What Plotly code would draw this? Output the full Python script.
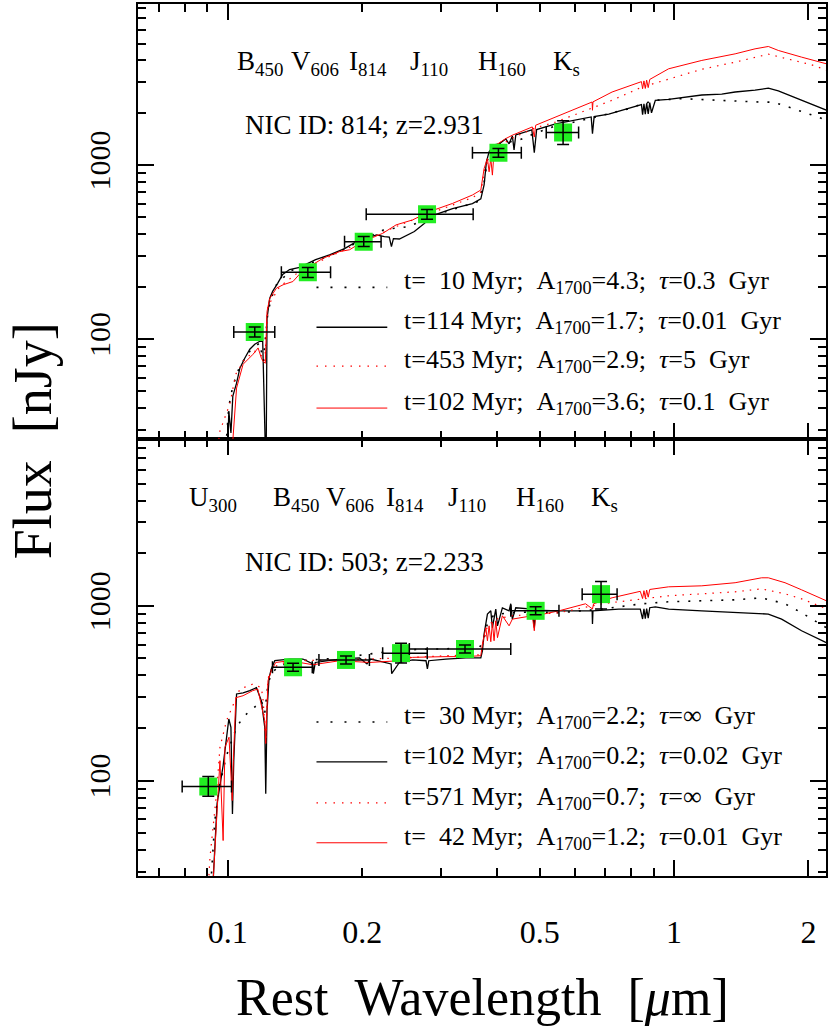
import math
import plotly.graph_objects as go

# ---------------- photometry (rest wavelength in micron, flux in nJy) ----------------
TOP_PHOT_WL = [0.1149, 0.1511, 0.2016, 0.2795, 0.4040, 0.5640]
TOP_PHOT_FLUX = [109.6, 242, 363, 521, 1176, 1538]
TOP_PHOT_WL_LO = [0.1031, 0.1318, 0.1826, 0.2042, 0.3533, 0.5170]
TOP_PHOT_WL_HI = [0.1274, 0.1699, 0.2205, 0.3546, 0.4546, 0.6110]
TOP_PHOT_FLUX_LO = [102.6, 226, 340, 488, 1108, 1312]
TOP_PHOT_FLUX_HI = [117.1, 258, 388, 556, 1248, 1802]

BOT_PHOT_WL = [0.0904, 0.1400, 0.1840, 0.2444, 0.3400, 0.4895, 0.6860]
BOT_PHOT_FLUX = [92.5, 445, 490, 536, 566, 936, 1166]
BOT_PHOT_WL_LO = [0.0790, 0.1259, 0.1600, 0.2223, 0.2551, 0.4305, 0.6223]
BOT_PHOT_WL_HI = [0.1019, 0.1546, 0.2076, 0.2798, 0.4305, 0.5521, 0.7452]
BOT_PHOT_FLUX_LO = [81.5, 422, 465, 470, 537, 888, 958]
BOT_PHOT_FLUX_HI = [105.5, 469, 516, 610, 597, 987, 1377]

# ---------------- model spectra: (rest wavelength [um], flux [nJy]) ----------------
TOP_BLACK_DOT = [(0.0990, 24), (0.1005, 41), (0.1026, 53.6), (0.1064, 70), (0.1120, 85), (0.1179, 95),
                 (0.1200, 74.5), (0.1230, 144), (0.1274, 200), (0.1375, 245), (0.1525, 271), (0.1780, 318),
                 (0.2006, 373), (0.2243, 426), (0.2550, 443), (0.2876, 512), (0.3300, 570), (0.3620, 615),
                 (0.3740, 750), (0.3817, 1070), (0.3950, 1307), (0.4268, 1360), (0.4493, 1391), (0.4896, 1530),
                 (0.5428, 1680), (0.6117, 1790), (0.7139, 1980), (0.7912, 2111), (0.8500, 2250), (0.9078, 2360),
                 (1.0400, 2410), (1.1500, 2390), (1.3702, 2337), (1.5500, 2307), (1.6700, 2300), (1.8030, 2160),
                 (2.0325, 1943), (2.1947, 1818)]

TOP_BLACK_SOLID = [(0.1000, 24), (0.1005, 38.5), (0.1016, 28.8), (0.1026, 46.9), (0.1046, 55.7), (0.1064, 67.9),
                   (0.1091, 77.5), (0.1120, 87.3), (0.1149, 93.2), (0.1179, 97.0), (0.1197, 97.0), (0.1207, 43.9),
                   (0.1213, 24), (0.1219, 24), (0.1224, 131), (0.1241, 171), (0.1260, 188), (0.1293, 209),
                   (0.1327, 235), (0.1375, 251), (0.1448, 258), (0.1573, 286), (0.1690, 305), (0.1826, 331),
                   (0.1942, 363), (0.2006, 373), (0.2153, 397), (0.2243, 388), (0.2300, 385), (0.2326, 340),
                   (0.2350, 378), (0.2423, 376),
                   (0.2618, 415), (0.2755, 461), (0.2876, 512), (0.3188, 562), (0.3533, 600), (0.3689, 640),
                   (0.3752, 770), (0.3797, 1044), (0.3850, 1192), (0.3950, 1307), (0.4054, 1325), (0.4196, 1415),
                   (0.4268, 1325), (0.4341, 1472), (0.4379, 1224), (0.4418, 1490), (0.4800, 1594), (0.4861, 1180),
                   (0.4920, 1600), (0.5428, 1725), (0.6117, 1843), (0.6520, 1892), (0.6563, 1518), (0.6620, 1900),
                   (0.7139, 1966), (0.7912, 2111), (0.8450, 2230), (0.8500, 1950), (0.8560, 2250), (0.8620, 1960),
                   (0.8680, 2270), (0.8750, 1970), (0.8820, 2290), (0.8900, 2000), (0.9078, 2360), (0.9721, 2390),
                   (1.0593, 2464), (1.1538, 2530), (1.2789, 2560), (1.3702, 2633), (1.5186, 2700), (1.6264, 2770),
                   (1.7123, 2670), (1.9307, 2359), (2.1947, 2070)]

TOP_RED_DOT = [(0.0950, 24), (0.0960, 29.6), (0.1010, 42.2), (0.1042, 62.8), (0.1091, 76.5), (0.1149, 85),
               (0.1190, 80), (0.1210, 74.5), (0.1230, 155), (0.1307, 200), (0.1448, 245), (0.1690, 298),
               (0.2006, 363), (0.2380, 443), (0.2828, 526), (0.3533, 650), (0.3690, 700), (0.3770, 977),
               (0.3980, 1255), (0.4340, 1431), (0.4896, 1640), (0.5428, 1770), (0.6117, 1990), (0.7260, 2359),
               (0.8470, 2810), (0.9720, 3130), (1.1538, 3560), (1.3702, 3911), (1.6264, 4345), (1.8030, 4070),
               (2.0300, 3780), (2.1947, 3520)]

TOP_RED_SOLID = [(0.1016, 24), (0.1026, 26), (0.1046, 52.2), (0.1082, 71.6), (0.1139, 81.7), (0.1169, 88.8),
                 (0.1189, 77.5), (0.1199, 74.5), (0.1213, 72.5), (0.1224, 144), (0.1241, 171), (0.1285, 196),
                 (0.1330, 205), (0.1399, 214), (0.1448, 236), (0.1525, 261), (0.1633, 291), (0.1780, 318),
                 (0.1874, 326), (0.2006, 363), (0.2223, 405), (0.2382, 453), (0.2595, 484), (0.2828, 540),
                 (0.3188, 602), (0.3533, 673), (0.3689, 719), (0.3752, 956), (0.3817, 1091), (0.3850, 915),
                 (0.3884, 1091), (0.3916, 876), (0.3950, 1192), (0.3985, 1302), (0.4196, 1421), (0.4341, 1486),
                 (0.4811, 1658), (0.4861, 1450), (0.4896, 1696), (0.5428, 1892), (0.6117, 2160), (0.6552, 2307),
                 (0.6563, 2067), (0.6580, 2310), (0.7262, 2633), (0.8450, 3020), (0.8500, 2750), (0.8560, 3050),
                 (0.8620, 2760), (0.8680, 3080), (0.8750, 2790), (0.8820, 3110), (0.9721, 3580), (1.1538, 4000),
                 (1.3702, 4364), (1.5186, 4664), (1.6264, 4812), (1.7123, 4565), (1.9307, 4178), (2.1947, 3825)]

BOT_BLACK_DOT = [(0.0919, 29.4), (0.0935, 59.1), (0.0960, 96.1), (0.0993, 139), (0.1046, 202), (0.1082, 230),
                 (0.1120, 251), (0.1159, 268), (0.1189, 286), (0.1210, 245), (0.1230, 357), (0.1254, 414),
                 (0.1307, 454), (0.1448, 485), (0.1780, 503), (0.2186, 539), (0.2590, 561), (0.3250, 568),
                 (0.3660, 575), (0.3740, 631), (0.3820, 800), (0.3950, 888), (0.4268, 912), (0.4896, 924),
                 (0.5521, 912), (0.6898, 958), (0.8472, 1027), (0.9721, 1054), (1.1538, 1068), (1.3702, 1082),
                 (1.5713, 1111), (1.7725, 1027), (1.9307, 912), (2.1947, 749)]

BOT_BLACK_SOLID = [(0.0927, 26.8), (0.0946, 73.8), (0.0976, 122), (0.0985, 148), (0.1005, 225), (0.1016, 202),
                   (0.1024, 64.5), (0.1031, 130), (0.1046, 313), (0.1082, 318), (0.1120, 327), (0.1159, 340),
                   (0.1189, 286), (0.1210, 201), (0.1216, 84), (0.1224, 251), (0.1237, 388), (0.1252, 436),
                   (0.1274, 485), (0.1375, 496), (0.1473, 496), (0.1551, 465), (0.1555, 409), (0.1570, 474),
                   (0.1780, 496), (0.1972, 503), (0.2050, 465), (0.2090, 496), (0.2322, 465), (0.2329, 409),
                   (0.2423, 474), (0.2595, 490), (0.2780, 485), (0.2800, 436), (0.2820, 485), (0.3082, 496),
                   (0.3415, 503), (0.3689, 503), (0.3720, 553), (0.3752, 689), (0.3817, 897), (0.3884, 936),
                   (0.3916, 749), (0.3985, 958), (0.4020, 768), (0.4123, 974), (0.4268, 936), (0.4305, 1027),
                   (0.4341, 839), (0.4418, 974), (0.4811, 958), (0.4861, 749), (0.4896, 945), (0.5521, 936),
                   (0.6552, 936), (0.6563, 786), (0.6580, 936), (0.7516, 958), (0.8400, 958), (0.8500, 840),
                   (0.8560, 960), (0.8620, 845), (0.8680, 965), (0.8750, 850), (0.8820, 975), (0.9078, 987),
                   (0.9721, 958), (1.1538, 936), (1.3702, 912), (1.6264, 897), (1.7417, 839), (1.9307, 720),
                   (2.1947, 615)]

BOT_RED_DOT = [(0.0905, 26), (0.0912, 36.5), (0.0943, 83.9), (0.0960, 155), (0.0993, 220), (0.1029, 274),
               (0.1064, 334), (0.1139, 357), (0.1189, 340), (0.1200, 286), (0.1216, 169), (0.1230, 383),
               (0.1254, 442), (0.1375, 485), (0.1780, 490), (0.2423, 503), (0.3082, 518), (0.3689, 524),
               (0.3740, 631), (0.3820, 768), (0.3985, 839), (0.4341, 877), (0.4896, 897), (0.5521, 912),
               (0.6898, 1027), (0.8472, 1096), (0.9721, 1141), (1.1538, 1171), (1.3702, 1202), (1.5713, 1250),
               (1.7725, 1171), (1.9307, 1096), (2.1947, 962)]

BOT_RED_SOLID = [(0.0927, 26.8), (0.0951, 76.9), (0.0960, 130), (0.0976, 45.4), (0.0985, 155), (0.1006, 177),
                 (0.1023, 76.9), (0.1029, 130), (0.1042, 298), (0.1082, 306), (0.1137, 327), (0.1167, 334),
                 (0.1189, 274), (0.1210, 220), (0.1216, 163), (0.1230, 373), (0.1252, 425), (0.1280, 474),
                 (0.1375, 485), (0.1551, 460), (0.1780, 485), (0.2076, 474), (0.2423, 485), (0.2595, 507),
                 (0.3082, 512), (0.3415, 512), (0.3689, 518), (0.3720, 606), (0.3785, 749), (0.3817, 631),
                 (0.3850, 768), (0.3884, 623), (0.3916, 800), (0.3950, 631), (0.3985, 821), (0.4020, 657),
                 (0.4123, 877), (0.4268, 768), (0.4341, 839), (0.4811, 877), (0.4861, 720), (0.4896, 877),
                 (0.5521, 936), (0.6333, 1027), (0.6563, 958), (0.6600, 1027), (0.7262, 1111), (0.8400, 1210),
                 (0.8500, 1100), (0.8560, 1220), (0.8620, 1110), (0.8680, 1230), (0.8750, 1120), (0.8820, 1240),
                 (0.9721, 1284), (1.1538, 1301), (1.3702, 1355), (1.5713, 1446), (1.6264, 1446), (1.7725, 1355),
                 (1.9307, 1234), (2.1947, 1068)]

# ---------------- text ----------------
TOP_FILTERS = ["B<sub>450</sub>", "V<sub>606</sub>", "I<sub>814</sub>", "J<sub>110</sub>", "H<sub>160</sub>", "K<sub>s</sub>"]
BOT_FILTERS = ["U<sub>300</sub>"] + TOP_FILTERS
TOP_ID = "NIC ID: 814; z=2.931"
BOT_ID = "NIC ID: 503; z=2.233"
NB = "\u00a0"
TOP_LEGEND = [
    f"t={NB}{NB}10{NB}Myr;{NB}{NB}A<sub>1700</sub>=4.3;{NB}{NB}<i>τ</i>=0.3{NB}{NB}Gyr",
    f"t=114{NB}Myr;{NB}{NB}A<sub>1700</sub>=1.7;{NB}{NB}<i>τ</i>=0.01{NB}{NB}Gyr",
    f"t=453{NB}Myr;{NB}{NB}A<sub>1700</sub>=2.9;{NB}{NB}<i>τ</i>=5{NB}{NB}Gyr",
    f"t=102{NB}Myr;{NB}{NB}A<sub>1700</sub>=3.6;{NB}{NB}<i>τ</i>=0.1{NB}{NB}Gyr",
]
BOT_LEGEND = [
    f"t={NB}{NB}30{NB}Myr;{NB}{NB}A<sub>1700</sub>=2.2;{NB}{NB}<i>τ</i>=∞{NB}{NB}Gyr",
    f"t=102{NB}Myr;{NB}{NB}A<sub>1700</sub>=0.2;{NB}{NB}<i>τ</i>=0.02{NB}{NB}Gyr",
    f"t=571{NB}Myr;{NB}{NB}A<sub>1700</sub>=0.7;{NB}{NB}<i>τ</i>=∞{NB}{NB}Gyr",
    f"t={NB}{NB}42{NB}Myr;{NB}{NB}A<sub>1700</sub>=1.2;{NB}{NB}<i>τ</i>=0.01{NB}{NB}Gyr",
]
X_TICKS = [0.1, 0.2, 0.5, 1, 2]
X_TICK_TEXT = ["0.1", "0.2", "0.5", "1", "2"]
X_MAJOR_LONG = [0.1, 1, 2]
X_MINOR = [0.07, 0.08, 0.09, 0.2, 0.3, 0.4, 0.5, 0.6, 0.7, 0.8, 0.9]
Y_TICKS = [100, 1000]
Y_TICK_TEXT = ["100", "1000"]
Y_MINOR = [20, 30, 40, 50, 60, 70, 80, 90, 200, 300, 400, 500, 600, 700, 800, 900,
           2000, 3000, 4000, 5000, 6000, 7000, 8000, 9000]

FONT = "Liberation Serif"
GREEN = "#22ee22"
RED = "#ff0000"

STYLES = {
    "black_dot": dict(color="black", width=1.6, dash="2px,9px"),
    "black_solid": dict(color="black", width=1.3),
    "red_dot": dict(color=RED, width=1.2, dash="1.5px,6px"),
    "red_solid": dict(color=RED, width=1.0),
}

fig = go.Figure()


def add_panel(xa, ya, curves, wl, fl, wl_lo, wl_hi, fl_lo, fl_hi):
    for data, style in curves:
        fig.add_trace(go.Scatter(x=[p[0] for p in data], y=[p[1] for p in data], mode="lines",
                                 line=STYLES[style], xaxis=xa, yaxis=ya, showlegend=False,
                                 hoverinfo="skip"))
    fig.add_trace(go.Scatter(x=wl, y=fl, mode="markers", xaxis=xa, yaxis=ya, showlegend=False,
                             marker=dict(symbol="square", size=18, color=GREEN, line=dict(width=0))))
    fig.add_trace(go.Scatter(
        x=wl, y=fl, mode="markers", xaxis=xa, yaxis=ya, showlegend=False,
        marker=dict(size=1, color="rgba(0,0,0,0)"),
        error_x=dict(type="data", symmetric=False,
                     array=[h - c for h, c in zip(wl_hi, wl)],
                     arrayminus=[c - l for l, c in zip(wl_lo, wl)],
                     color="black", thickness=1.5, width=6),
        error_y=dict(type="data", symmetric=False,
                     array=[h - c for h, c in zip(fl_hi, fl)],
                     arrayminus=[c - l for l, c in zip(fl_lo, fl)],
                     color="black", thickness=1.5, width=6),
    ))


add_panel("x2", "y2",
          [(TOP_BLACK_DOT, "black_dot"), (TOP_BLACK_SOLID, "black_solid"),
           (TOP_RED_DOT, "red_dot"), (TOP_RED_SOLID, "red_solid")],
          TOP_PHOT_WL, TOP_PHOT_FLUX, TOP_PHOT_WL_LO, TOP_PHOT_WL_HI, TOP_PHOT_FLUX_LO, TOP_PHOT_FLUX_HI)
add_panel("x", "y",
          [(BOT_BLACK_DOT, "black_dot"), (BOT_BLACK_SOLID, "black_solid"),
           (BOT_RED_DOT, "red_dot"), (BOT_RED_SOLID, "red_solid")],
          BOT_PHOT_WL, BOT_PHOT_FLUX, BOT_PHOT_WL_LO, BOT_PHOT_WL_HI, BOT_PHOT_FLUX_LO, BOT_PHOT_FLUX_HI)

# invisible trace to register the overlay axis carrying long major ticks
fig.add_trace(go.Scatter(x=[None], y=[None], xaxis="x3", yaxis="y", showlegend=False, hoverinfo="skip"))

XR = [math.log10(0.0629), math.log10(2.19)]
TOP_YR = [1.422, 3.9266]
BOT_YR = [1.4543, 3.9514]
SPLIT = 0.5006

tickfont = dict(family=FONT, size=32, color="black")
common_x = dict(type="log", range=XR, showgrid=False, zeroline=False, ticks="inside",
                tickcolor="black", tickwidth=1.5, showline=True, linecolor="black", linewidth=2,
                mirror="ticks")
common_y = dict(type="log", showgrid=False, zeroline=False, ticks="inside", tickcolor="black",
                tickwidth=1.5, ticklen=16, showline=True, linecolor="black", linewidth=2,
                mirror="ticks", tickmode="array", tickvals=Y_TICKS, ticktext=Y_TICK_TEXT,
                tickangle=-90, tickfont=dict(family=FONT, size=30, color="black"),
                ticklabelstandoff=14,
                minor=dict(tickmode="array", tickvals=Y_MINOR, ticks="inside", ticklen=8,
                           tickwidth=1.5, tickcolor="black", showgrid=False))

fig.update_layout(
    width=830, height=1028,
    margin=dict(l=138, r=2, t=2, b=152),
    paper_bgcolor="white", plot_bgcolor="white",
    showlegend=False,
    xaxis=dict(common_x, anchor="y", domain=[0, 1], tickmode="array", tickvals=X_TICKS,
               ticktext=X_TICK_TEXT, ticklen=8, tickfont=tickfont, ticklabelstandoff=27,
               minor=dict(tickmode="array", tickvals=X_MINOR, ticks="inside", ticklen=8,
                          tickwidth=1.5, tickcolor="black", showgrid=False)),
    xaxis2=dict(common_x, anchor="y2", domain=[0, 1], tickmode="array", tickvals=X_MAJOR_LONG,
                ticklen=16, showticklabels=False,
                minor=dict(tickmode="array", tickvals=X_MINOR, ticks="inside", ticklen=8,
                           tickwidth=1.5, tickcolor="black", showgrid=False)),
    xaxis3=dict(type="log", range=XR, overlaying="x", anchor="y", showgrid=False, zeroline=False,
                showline=False, ticks="inside", ticklen=16, tickwidth=1.5, tickcolor="black",
                mirror="ticks", tickmode="array", tickvals=X_MAJOR_LONG, showticklabels=False),
    yaxis=dict(common_y, anchor="x", domain=[0, SPLIT], range=BOT_YR),
    yaxis2=dict(common_y, anchor="x2", domain=[SPLIT, 1], range=TOP_YR),
)


def px_x(px):
    return (px - 138) / 690.0


def px_y(py):
    return (876 - py) / 874.0


ann = []
# filter labels
for txt, px in zip(TOP_FILTERS, [235, 289.3, 347.3, 408.3, 476.7, 552.7]):
    ann.append(dict(text=txt, x=px_x(px), y=px_y(61), xanchor="left", yanchor="middle",
                    font=dict(family=FONT, size=27, color="black")))
for txt, px in zip(BOT_FILTERS, [186.7, 271.7, 325, 385, 446.7, 515, 590]):
    ann.append(dict(text=txt, x=px_x(px), y=px_y(498.5), xanchor="left", yanchor="middle",
                    font=dict(family=FONT, size=27, color="black")))
ann.append(dict(text=TOP_ID, x=px_x(243), y=px_y(123.5), xanchor="left", yanchor="middle",
                font=dict(family=FONT, size=27, color="black")))
ann.append(dict(text=BOT_ID, x=px_x(243), y=px_y(561.5), xanchor="left", yanchor="middle",
                font=dict(family=FONT, size=27, color="black")))

shapes = []
key_styles = ["black_dot", "black_solid", "red_dot", "red_solid"]
for rows, labels in (([286, 326, 365, 407], TOP_LEGEND), ([721.7, 761.7, 802.7, 842.7], BOT_LEGEND)):
    for py, lab, st in zip(rows, labels, key_styles):
        s = STYLES[st]
        shapes.append(dict(type="line", xref="paper", yref="paper", x0=px_x(317), x1=px_x(388),
                           y0=px_y(py), y1=px_y(py),
                           line=dict(color=s["color"], width=s["width"],
                                     dash=s.get("dash", "solid").replace("9px", "12px").replace("6px", "7px"))))
        ann.append(dict(text=lab, x=px_x(403), y=px_y(py - 5), xanchor="left", yanchor="middle",
                        font=dict(family=FONT, size=26, color="black")))

ann.append(dict(text=f"Flux{NB}{NB}[nJy]", x=px_x(33), y=px_y(440), textangle=-90,
                xanchor="center", yanchor="middle", font=dict(family=FONT, size=54, color="black")))
ann.append(dict(text=f"Rest{NB}{NB}Wavelength{NB}{NB}[<i>μ</i>m]", x=px_x(484), y=px_y(998),
                xanchor="center", yanchor="middle", font=dict(family=FONT, size=52, color="black")))

for a in ann:
    a.update(xref="paper", yref="paper", showarrow=False)
fig.update_layout(annotations=ann, shapes=shapes)

fig.write_html("out.html", config={"displayModeBar": False},
               post_script="document.body.style.margin='0px';document.body.style.padding='0px';")
